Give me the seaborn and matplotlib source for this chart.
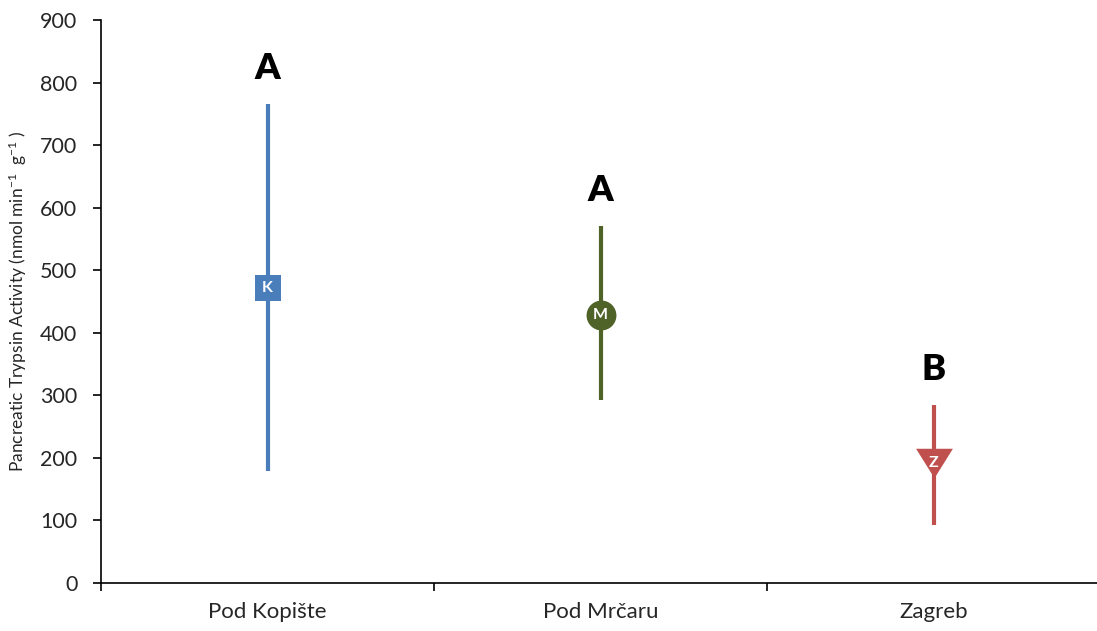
import matplotlib
matplotlib.use("Agg")
import matplotlib.pyplot as plt
import seaborn as sns
import numpy as np

# Data
sites = ["Pod Kopište", "Pod Mrčaru", "Zagreb"]
means = [472, 428, 192]
upper = [765, 571, 285]
lower = [179, 292, 93]
codes = ["K", "M", "Z"]
groups = ["A", "A", "B"]
colors = ["#4a7ebb", "#4f6228", "#c0504d"]

sns.set_style("ticks")
plt.rcParams["font.family"] = ["Lato", "DejaVu Sans"]
plt.rcParams["mathtext.fontset"] = "custom"
plt.rcParams["mathtext.rm"] = "Lato"
plt.rcParams["mathtext.it"] = "Lato:italic"
plt.rcParams["mathtext.bf"] = "Lato:bold"

fig = plt.figure(figsize=(10.97, 6.31), dpi=100)
ax = fig.add_axes([101 / 1097, 48 / 631, 999 / 1097, 563 / 631])

tri = [(-1, 0.8), (1, 0.8), (0, -0.8)]
markers = ["s", "o", tri]
msizes = [19, 21.5, 26.5]

x = np.arange(len(sites))
for i in range(len(sites)):
    ax.vlines(x[i], lower[i], upper[i], color=colors[i], lw=3.0, zorder=2)

sns.scatterplot(x=x[:2], y=means[:2], ax=ax, legend=False)
ax.collections[-1].remove()
for i in range(len(sites)):
    ax.plot(x[i], means[i], marker=markers[i], ms=msizes[i], color=colors[i],
            mec=colors[i], mew=0, zorder=3, ls="none")
    ax.text(x[i], means[i], codes[i], color="white", fontsize=11.5,
            fontweight="bold", ha="center", va="center", zorder=4)
    ax.text(x[i], upper[i] + 57, groups[i], color="black", fontsize=26,
            fontweight="heavy", ha="center", va="center")

ax.set_xlim(-0.5, 2.5)
ax.set_ylim(0, 900)
ax.set_yticks(np.arange(0, 901, 100))
ax.set_xticks(x)
ax.set_xticklabels(sites)
ax.set_xticks([-0.5, 0.5, 1.5, 2.5], minor=True)
ax.tick_params(axis="x", which="major", length=0, pad=14, labelsize=16)
ax.tick_params(axis="x", which="minor", length=6, width=1.2, direction="out", color="black")
ax.tick_params(axis="y", length=6, width=1.2, direction="out", pad=11, labelsize=15.5, color="black")

for s in ["top", "right"]:
    ax.spines[s].set_visible(False)
for s in ["left", "bottom"]:
    ax.spines[s].set_linewidth(1.2)
    ax.spines[s].set_color("black")

ax.set_ylabel("Pancreatic Trypsin Activity (nmol min$^{-1}$  g$^{-1}$ )", fontsize=12.5)
ax.yaxis.set_label_coords(-72 / 999, 0.5)
ax.set_xlabel("")

fig.savefig("out.png", dpi=100)
